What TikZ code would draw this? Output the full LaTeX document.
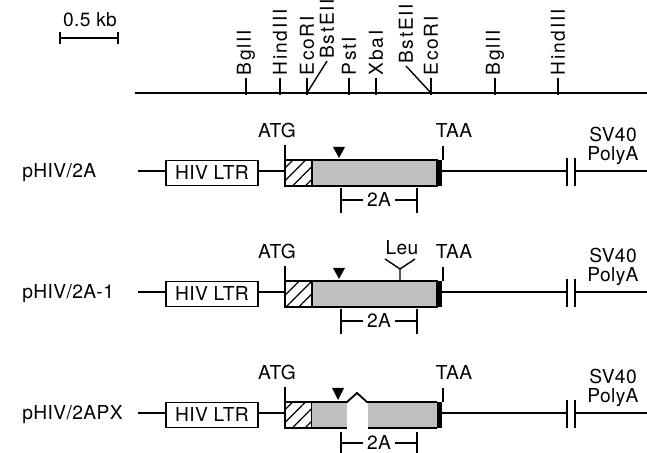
\documentclass[tikz,border=0pt]{standalone}
\usepackage{fontspec}
\setmainfont{TeX Gyre Heros}[LetterSpace=2]
\usetikzlibrary{patterns.meta}

\begin{document}
\begin{tikzpicture}[
		x=0.5pt, y=-0.5pt,
		font=\fontsize{9.6}{9.4}\selectfont,
		% Line weights for the DNA backbone, box outlines and small ticks
		backbone/.style={line width=1.3pt},
		outline/.style={line width=0.9pt},
		sitetick/.style={line width=0.7pt},
		% Restriction site names, set vertically above the map
		sitelabel/.style={rotate=90, anchor=west, inner sep=1pt, font=\fontsize{9.6}{9.4}\selectfont\addfontfeature{LetterSpace=9}},
		% Boxes of each construct
		ltrbox/.style={draw, line width=0.9pt, minimum width=46pt, minimum height=12.5pt, inner sep=0pt},
		leaderbox/.style={draw, line width=0.9pt, pattern={Lines[angle=45, distance=4.5pt, line width=0.6pt]}},
		codingbox/.style={draw, line width=0.9pt, fill=black!25},
		stopband/.style={fill=black},
		rowlabel/.style={anchor=west, inner sep=0pt}
		]
		\useasboundingbox (0,0) rectangle (647,453);
		
		% =========================================================================
		% SCALE BAR AND RESTRICTION MAP (Top)
		% =========================================================================
		\node (scale) at (90,20) {0.5 kb};
		\draw[sitetick] (60,32) -- (60,44) (60,38) -- (118,38) (118,32) -- (118,44);
		
		\coordinate (mapL) at (135,93);
		\coordinate (mapR) at (647,93);
		\draw[backbone] (mapL) -- (mapR);
		
		\foreach \x/\site/\tag in {246/BglII/a, 280/HindIII/b, 307/EcoRI/c, 349/PstI/d,
			376/XbaI/e, 431/EcoRI/f, 495/BglII/g, 558/HindIII/h} {
			\draw[sitetick] (\x,95) -- (\x,78) node[sitelabel] (site\tag) {\site};
		}
		% BstEII sites drawn with slanted leaders
		\node[sitelabel] (siteBa) at (327,61) {BstEII};
		\node[sitelabel] (siteBb) at (406,66) {BstEII};
		\draw[sitetick] (307,93) -- (siteBa.west);
		\draw[sitetick] (431,93) -- (siteBb.west);
		
		% =========================================================================
		% CONSTRUCT 1: pHIV/2A
		% =========================================================================
		\begin{scope}[shift={(0,173)}]
			\node[rowlabel] (nameA) at (22,0) {pHIV/2A};
			\node[ltrbox] (ltrA) at (212,0) {HIV LTR};
			\coordinate (startA) at (138,-2);
			\draw[backbone] (startA) -- (startA -| ltrA.west);
			\draw[backbone] (ltrA.east |- 0,-2) -- (285,-2);
			
			\draw[leaderbox] (285,-13) rectangle (312,13);
			\draw[codingbox] (312,-13) rectangle (437,13);
			\fill[stopband] (437,-13) rectangle (442,13);
			
			\draw[backbone] (442,-2) -- (567,-2) (575,-2) -- (647,-2);
			\draw[outline] (567,-15) -- (567,13) (575,-15) -- (575,13);
			
			\node (atgA) at (277,-42) {ATG};
			\draw[sitetick] (285,-13) -- (285,-28);
			\node (taaA) at (454,-42) {TAA};
			\draw[sitetick] (443,-13) -- (443,-27);
			\node[align=center] (polyA) at (613,-27) {SV40\\PolyA};
			
			\fill (333,-26) -- (345,-26) -- (339,-15) -- cycle;
			
			\node[inner sep=2pt] (frA) at (379,27) {2A};
			\draw[sitetick] (341,15) -- (341,40) (417,15) -- (417,40);
			\draw[sitetick] (341,27) -- (frA.west) (frA.east) -- (417,27);
		\end{scope}
		
		% =========================================================================
		% CONSTRUCT 2: pHIV/2A-1 (Leu insertion)
		% =========================================================================
		\begin{scope}[shift={(0,294)}]
			\node[rowlabel] (nameB) at (22,0) {pHIV/2A-1};
			\node[ltrbox] (ltrB) at (212,0) {HIV LTR};
			\coordinate (startB) at (138,-2);
			\draw[backbone] (startB) -- (startB -| ltrB.west);
			\draw[backbone] (ltrB.east |- 0,-2) -- (285,-2);
			
			\draw[leaderbox] (285,-13) rectangle (312,13);
			\draw[codingbox] (312,-13) rectangle (437,13);
			\fill[stopband] (437,-13) rectangle (442,13);
			
			\draw[backbone] (442,-2) -- (567,-2) (575,-2) -- (647,-2);
			\draw[outline] (567,-15) -- (567,13) (575,-15) -- (575,13);
			
			\node (atgB) at (277,-42) {ATG};
			\draw[sitetick] (285,-13) -- (285,-28);
			\node (taaB) at (454,-42) {TAA};
			\draw[sitetick] (443,-13) -- (443,-27);
			\node[align=center] (polyB) at (613,-27) {SV40\\PolyA};
			
			\fill (333,-26) -- (345,-26) -- (339,-15) -- cycle;
			
			\node (leu) at (402,-46) {Leu};
			\draw[sitetick] (400,-13) -- (400,-25) -- (385,-35) (400,-25) -- (415,-35);
			
			\node[inner sep=2pt] (frB) at (379,27) {2A};
			\draw[sitetick] (341,15) -- (341,40) (417,15) -- (417,40);
			\draw[sitetick] (341,27) -- (frB.west) (frB.east) -- (417,27);
		\end{scope}
		
		% =========================================================================
		% CONSTRUCT 3: pHIV/2APX (internal deletion)
		% =========================================================================
		\begin{scope}[shift={(0,415)}]
			\node[rowlabel] (nameC) at (22,0) {pHIV/2APX};
			\node[ltrbox] (ltrC) at (212,0) {HIV LTR};
			\coordinate (startC) at (138,-2);
			\draw[backbone] (startC) -- (startC -| ltrC.west);
			\draw[backbone] (ltrC.east |- 0,-2) -- (285,-2);
			
			\draw[leaderbox] (285,-13) rectangle (312,13);
			\fill[black!25] (312,-13) rectangle (347,13);
			\fill[black!25] (368,-13) rectangle (437,13);
			\draw[outline] (312,-13) -- (347,-13) -- (357,-22) -- (367,-13) -- (437,-13);
			\draw[outline] (312,13) -- (347,13) (368,13) -- (437,13);
			\fill[stopband] (437,-13) rectangle (442,13);
			
			\draw[backbone] (442,-2) -- (567,-2) (575,-2) -- (647,-2);
			\draw[outline] (567,-15) -- (567,13) (575,-15) -- (575,13);
			
			\node (atgC) at (277,-42) {ATG};
			\draw[sitetick] (285,-13) -- (285,-28);
			\node (taaC) at (454,-42) {TAA};
			\draw[sitetick] (443,-13) -- (443,-27);
			\node[align=center] (polyC) at (613,-27) {SV40\\PolyA};
			
			\fill (332,-27) -- (344,-27) -- (338,-15) -- cycle;
			
			\node[inner sep=2pt] (frC) at (379,28) {2A};
			\draw[sitetick] (341,17) -- (341,45) (417,17) -- (417,45);
			\draw[sitetick] (341,28) -- (frC.west) (frC.east) -- (417,28);
		\end{scope}
		
	\end{tikzpicture}
\end{document}
